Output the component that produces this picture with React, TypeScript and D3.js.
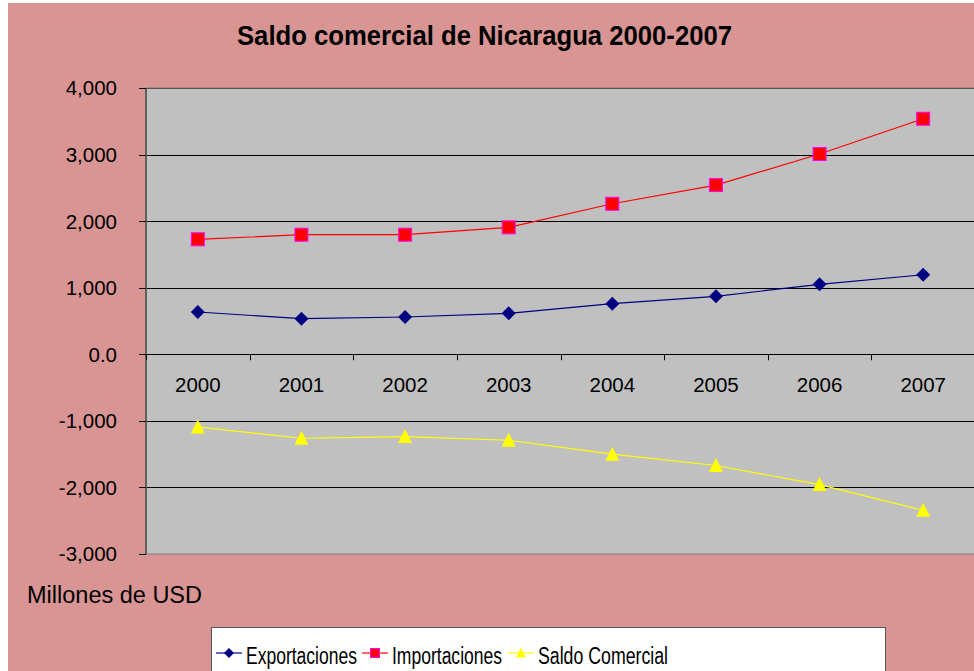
import React from "react";
import * as d3 from "d3";

const years = ["2000", "2001", "2002", "2003", "2004", "2005", "2006", "2007"];
const exportaciones = [635, 535, 560, 616, 760, 871, 1051, 1195];
const importaciones = [1727, 1796, 1796, 1907, 2261, 2542, 3008, 3538];
const saldoComercial = [-1092, -1261, -1236, -1291, -1501, -1671, -1957, -2343];
const yTicks = [4000, 3000, 2000, 1000, 0, -1000, -2000, -3000];

const W = 974;
const H = 671;
const FONT = "'Liberation Sans', Arial, Helvetica, sans-serif";
const PINK = "#D99594";
const PLOT_BG = "#C0C0C0";

const plot = { left: 146, right: 975, top: 88, bottom: 554 };

export default function App() {
  const x = d3.scaleBand<string>().domain(years).range([plot.left, plot.right]).padding(0);
  const y = d3.scaleLinear().domain([-3000, 4000]).range([plot.bottom, plot.top]);
  const cx = (yr: string) => (x(yr) as number) + x.bandwidth() / 2;
  const line = d3
    .line<number>()
    .x((_, i) => cx(years[i]))
    .y((d) => y(d));
  const fmt = (d: number) => (d === 0 ? "0.0" : d3.format(",")(d).replace("\u2212", "-"));

  const diamond = (px: number, py: number, r: number) =>
    `M${px},${py - r}L${px + r},${py}L${px},${py + r}L${px - r},${py}Z`;
  const triangle = (px: number, py: number, w: number, h: number) =>
    `M${px},${py - h / 2 - 1}L${px + w / 2},${py + h / 2}L${px - w / 2},${py + h / 2}Z`;

  const boundaries = years.map((yr) => x(yr) as number).concat([plot.right]);

  const legendY = 653;
  const legendItems = [
    { name: "Exportaciones", lx: 216, tx: 246, tl: 111, kind: "diamond", color: "#000080" },
    { name: "Importaciones", lx: 362, tx: 392, tl: 110, kind: "square", color: "#FF0000" },
    { name: "Saldo Comercial", lx: 508, tx: 538, tl: 130, kind: "triangle", color: "#FFFF00" },
  ];

  return (
    <svg
      width={W}
      height={H}
      style={{ position: "absolute", left: 0, top: 0, display: "block" }}
      fontFamily={FONT}
    >
      <rect x={0} y={0} width={W} height={H} fill="#FFFFFF" />
      <rect x={8} y={3} width={W} height={H} fill={PINK} />

      {/* title */}
      <text
        x={237}
        y={45}
        fontSize={28}
        fontWeight="bold"
        fill="#000"
        textLength={495}
        lengthAdjust="spacingAndGlyphs"
      >
        Saldo comercial de Nicaragua 2000-2007
      </text>

      {/* plot area */}
      <rect
        x={plot.left}
        y={plot.top}
        width={plot.right - plot.left}
        height={plot.bottom - plot.top}
        fill={PLOT_BG}
        stroke="#808080"
        strokeWidth={1}
      />

      {/* gridlines */}
      {yTicks
        .filter((t) => t !== -3000)
        .map((t) => (
          <line
            key={"g" + t}
            x1={plot.left}
            x2={plot.right}
            y1={Math.round(y(t)) + 0.5}
            y2={Math.round(y(t)) + 0.5}
            stroke={t === 4000 ? "#555" : "#000"}
            strokeWidth={1}
          />
        ))}

      {/* y axis */}
      <line x1={plot.left} x2={plot.left} y1={plot.top} y2={plot.bottom} stroke="#606060" strokeWidth={2} />
      {yTicks.map((t) => (
        <g key={"yt" + t}>
          <line
            x1={139}
            x2={plot.left}
            y1={Math.round(y(t)) + 0.5}
            y2={Math.round(y(t)) + 0.5}
            stroke="#000"
            strokeWidth={1}
          />
          <text x={117} y={y(t)} dy="0.36em" textAnchor="end" fontSize={20.5} fill="#000">
            {fmt(t)}
          </text>
        </g>
      ))}

      {/* x axis ticks at zero line */}
      {boundaries.map((bx, i) => (
        <line
          key={"xt" + i}
          x1={Math.round(bx) + 0.5}
          x2={Math.round(bx) + 0.5}
          y1={y(0)}
          y2={y(0) + 6}
          stroke="#000"
          strokeWidth={1}
        />
      ))}
      {years.map((yr) => (
        <text key={"xl" + yr} x={cx(yr)} y={392} textAnchor="middle" fontSize={20.5} fill="#000">
          {yr}
        </text>
      ))}

      {/* lines */}
      <path d={line(saldoComercial) || ""} fill="none" stroke="#FFFF00" strokeWidth={1.2} />
      <path d={line(exportaciones) || ""} fill="none" stroke="#000080" strokeWidth={1.2} />
      <path d={line(importaciones) || ""} fill="none" stroke="#FF0000" strokeWidth={1.2} />

      {/* markers */}
      {exportaciones.map((v, i) => (
        <path key={"e" + i} d={diamond(cx(years[i]), y(v), 7)} fill="#000080" />
      ))}
      {importaciones.map((v, i) => (
        <rect
          key={"m" + i}
          x={cx(years[i]) - 6.5}
          y={y(v) - 6.5}
          width={13}
          height={13}
          fill="#FF0000"
          stroke="#FF00FF"
          strokeWidth={1}
        />
      ))}
      {saldoComercial.map((v, i) => (
        <path key={"s" + i} d={triangle(cx(years[i]), y(v), 14, 13)} fill="#FFFF00" />
      ))}

      {/* y-unit label */}
      <text x={27} y={603} fontSize={23.5} fill="#000">
        Millones de USD
      </text>

      {/* legend */}
      <rect x={211.5} y={627.5} width={674} height={60} fill="#FFFFFF" stroke="#555" strokeWidth={1} />
      {legendItems.map((it) => {
        const mx = it.lx + 13;
        return (
          <g key={it.name}>
            <line x1={it.lx} x2={it.lx + 26} y1={legendY} y2={legendY} stroke={it.color} strokeWidth={1.2} />
            {it.kind === "diamond" && <path d={diamond(mx, legendY, 5)} fill={it.color} />}
            {it.kind === "square" && (
              <rect x={mx - 4.5} y={legendY - 4.5} width={9} height={9} fill="#FF0000" stroke="#FF00FF" strokeWidth={1} />
            )}
            {it.kind === "triangle" && <path d={triangle(mx, legendY, 10, 9)} fill={it.color} />}
            <text
              x={it.tx}
              y={664}
              fontSize={23}
              fill="#000"
              textLength={it.tl}
              lengthAdjust="spacingAndGlyphs"
            >
              {it.name}
            </text>
          </g>
        );
      })}
    </svg>
  );
}
